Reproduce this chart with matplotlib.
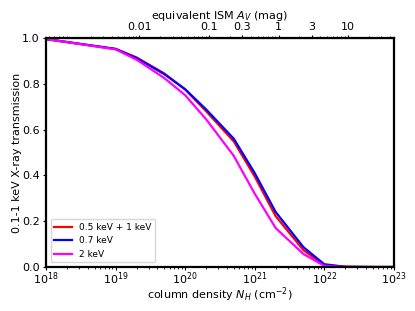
import matplotlib
matplotlib.use('Agg')
import matplotlib.pyplot as plt
import numpy as np

# column density grid (cm^-2)
nh = [1e18, 1e19, 2e19, 5e19, 1e20, 2e20, 5e20, 1e21, 2e21, 5e21, 1e22, 2e22, 5e22, 1e23]

# transmission in 0.1-1 keV band
t_05_1 = [0.995, 0.952, 0.915, 0.845, 0.775, 0.680, 0.548, 0.395, 0.222, 0.074, 0.008, 0.001, 0.0, 0.0]
t_07 = [0.995, 0.952, 0.912, 0.842, 0.776, 0.688, 0.560, 0.410, 0.240, 0.087, 0.012, 0.001, 0.0, 0.0]
t_2 = [0.995, 0.950, 0.905, 0.825, 0.750, 0.645, 0.485, 0.320, 0.170, 0.057, 0.005, 0.0, 0.0, 0.0]

av_ticks = [0.01, 0.1, 0.3, 1, 3, 10]
av_labels = ['0.01', '0.1', '0.3', '1', '3', '10']
nh_per_av = 2.2e21

plt.rcParams['font.size'] = 8
plt.rcParams['xtick.major.size'] = 2.5
plt.rcParams['ytick.major.size'] = 2.5
plt.rcParams['xtick.minor.size'] = 1.5
plt.rcParams['xtick.major.pad'] = 2
plt.rcParams['ytick.major.pad'] = 2
plt.rcParams['axes.labelpad'] = 2

fig = plt.figure(figsize=(4.15, 3.11), dpi=100)
ax = fig.add_axes([0.111, 0.1415, 0.838, 0.7365])

ax.plot(nh, t_05_1, color='red', lw=1.6, label='0.5 keV + 1 keV')
ax.plot(nh, t_07, color='blue', lw=1.6, label='0.7 keV')
ax.plot(nh, t_2, color='magenta', lw=1.6, label='2 keV')

ax.set_xscale('log')
ax.set_xlim(1e18, 1e23)
ax.set_ylim(0, 1)
ax.tick_params(axis='x', which='major', pad=0)
ax.set_xlabel(r'column density $N_H$ (cm$^{-2}$)', labelpad=-1)
ax.set_ylabel('0.1-1 keV X-ray transmission', labelpad=0)
for s in ax.spines.values():
    s.set_linewidth(1.6)
ax.legend(loc='lower left', fontsize=6.5)

sec = ax.secondary_xaxis('top', functions=(lambda x: x / nh_per_av, lambda a: a * nh_per_av))
sec.set_xscale('log')
sec.set_xticks(av_ticks)
sec.set_xticklabels(av_labels)
sec.set_xlabel(r'equivalent ISM $A_V$ (mag)')

fig.savefig('out.png', dpi=100)
